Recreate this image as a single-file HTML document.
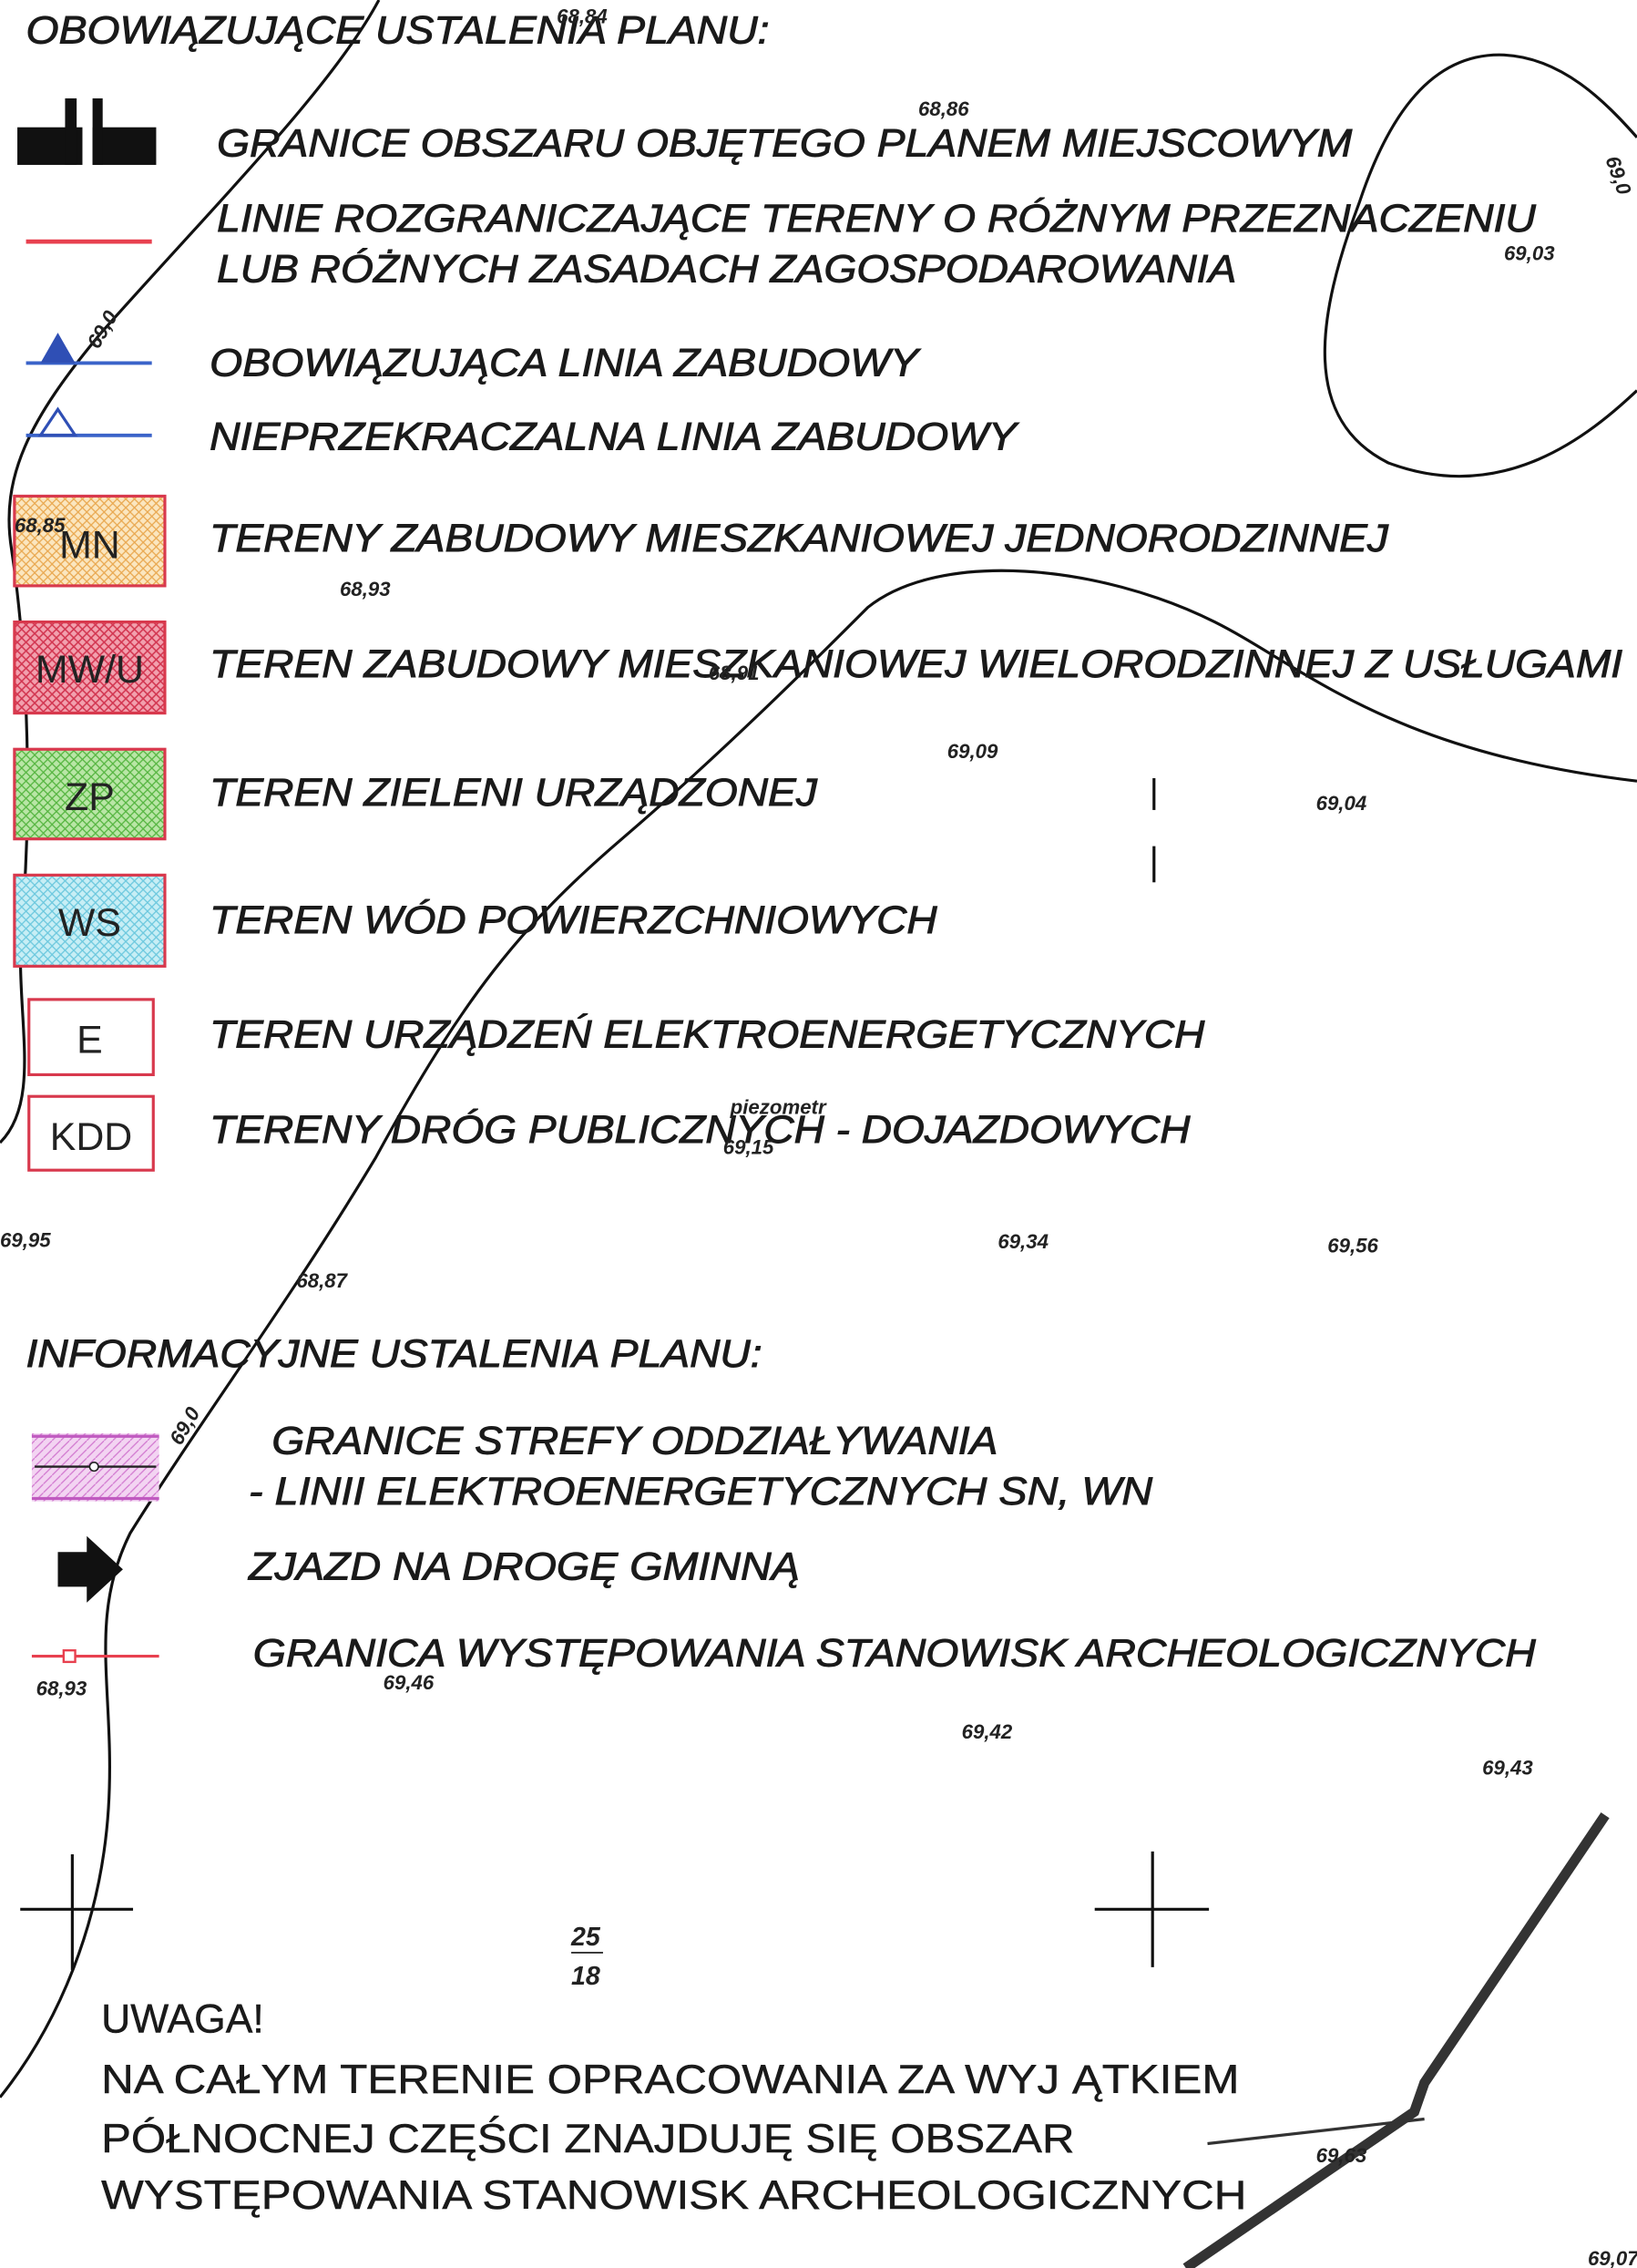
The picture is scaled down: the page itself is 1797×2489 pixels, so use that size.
<!DOCTYPE html>
<html><head><meta charset="utf-8"><style>
html,body{margin:0;padding:0;background:#fff;}
svg{display:block;}
.t{font-family:"Liberation Sans",sans-serif;font-style:italic;font-size:27px;fill:#1a1a1a;stroke:#1a1a1a;stroke-width:0.6;}
.n{font-family:"Liberation Sans",sans-serif;font-size:28px;fill:#1a1a1a;stroke:#1a1a1a;stroke-width:0.3;}
.s{font-family:"Liberation Sans",sans-serif;font-style:italic;font-weight:bold;font-size:14px;fill:#222;}
.b{font-family:"Liberation Sans",sans-serif;font-size:27px;fill:#222;}
</style></head><body>
<svg width="1797" height="2489" viewBox="0 0 1132 1568" preserveAspectRatio="none" xmlns="http://www.w3.org/2000/svg">
<defs>
<pattern id="ho" width="6" height="6" patternUnits="userSpaceOnUse"><rect width="6" height="6" fill="#fbe6bf"/><path d="M0,0L6,6M6,0L0,6" stroke="#e9a850" stroke-width="0.8"/></pattern>
<pattern id="hr" width="6" height="6" patternUnits="userSpaceOnUse"><rect width="6" height="6" fill="#f2a0ae"/><path d="M0,0L6,6M6,0L0,6" stroke="#d23550" stroke-width="1"/></pattern>
<pattern id="hg" width="6" height="6" patternUnits="userSpaceOnUse"><rect width="6" height="6" fill="#b9e6a6"/><path d="M0,0L6,6M6,0L0,6" stroke="#55b540" stroke-width="0.8"/></pattern>
<pattern id="hc" width="6" height="6" patternUnits="userSpaceOnUse"><rect width="6" height="6" fill="#c7eef5"/><path d="M0,0L6,6M6,0L0,6" stroke="#6cc8de" stroke-width="0.8"/></pattern>
<pattern id="hp" width="6" height="6" patternUnits="userSpaceOnUse"><rect width="6" height="6" fill="#f3d4f2"/><path d="M0,6L6,0" stroke="#d27ad0" stroke-width="0.8"/></pattern>
</defs>
<rect width="1132" height="1568" fill="#fff"/>
<g fill="none" stroke="#111" stroke-width="2">
<path d="M262,0 C230,60 150,140 70,230 C20,290 0,330 8,380 C20,460 22,560 15,640 C10,700 30,760 0,790"/>
<path d="M0,1450 C40,1400 70,1330 75,1250 C80,1170 60,1120 90,1060 C140,980 200,900 260,800 C320,690 360,640 430,580 C500,520 560,460 600,420 C650,380 760,390 840,430 C900,460 960,520 1132,540"/>
<path d="M1132,95 C1110,70 1080,40 1040,38 C990,36 960,80 940,140 C910,220 900,290 960,320 C1040,350 1100,300 1132,270"/>
</g>
<path d="M1110,1255 L985,1440 L978,1460 L820,1568" fill="none" stroke="#333" stroke-width="7"/>
<path d="M835,1482 L985,1465" stroke="#333" stroke-width="2" fill="none"/>
<text x="18" y="30" class="t" textLength="514" lengthAdjust="spacingAndGlyphs">OBOWIĄZUJĄCE USTALENIA PLANU:</text>
<rect x="12" y="88" width="45" height="26" fill="#111"/><rect x="45" y="68" width="8" height="46" fill="#111"/>
<rect x="64" y="88" width="44" height="26" fill="#111"/><rect x="64" y="68" width="7" height="46" fill="#111"/>
<text x="150" y="108" class="t" textLength="785" lengthAdjust="spacingAndGlyphs">GRANICE OBSZARU OBJĘTEGO PLANEM MIEJSCOWYM</text>
<line x1="18" y1="167" x2="105" y2="167" stroke="#e8404f" stroke-width="3"/>
<text x="150" y="160" class="t" textLength="912" lengthAdjust="spacingAndGlyphs">LINIE ROZGRANICZAJĄCE TERENY O RÓŻNYM PRZEZNACZENIU</text>
<text x="150" y="195" class="t" textLength="705" lengthAdjust="spacingAndGlyphs">LUB RÓŻNYCH ZASADACH ZAGOSPODAROWANIA</text>
<line x1="18" y1="251" x2="105" y2="251" stroke="#3a63c9" stroke-width="2.5"/>
<polygon points="28,251 40,230 52,251" fill="#2f4fb5"/>
<text x="145" y="260" class="t" textLength="490" lengthAdjust="spacingAndGlyphs">OBOWIĄZUJĄCA LINIA ZABUDOWY</text>
<line x1="18" y1="301" x2="105" y2="301" stroke="#3a63c9" stroke-width="2.5"/>
<polygon points="28,301 40,283 52,301" fill="none" stroke="#2f4fb5" stroke-width="2"/>
<text x="145" y="311" class="t" textLength="558" lengthAdjust="spacingAndGlyphs">NIEPRZEKRACZALNA LINIA ZABUDOWY</text>
<rect x="10" y="343" width="104" height="62" fill="url(#ho)" stroke="#d8394d" stroke-width="2"/>
<text x="62" y="386" class="b" text-anchor="middle">MN</text>
<text x="145" y="381" class="t" textLength="815" lengthAdjust="spacingAndGlyphs">TERENY ZABUDOWY MIESZKANIOWEJ JEDNORODZINNEJ</text>
<rect x="10" y="430" width="104" height="63" fill="url(#hr)" stroke="#d8394d" stroke-width="2"/>
<text x="62" y="472" class="b" text-anchor="middle">MW/U</text>
<text x="145" y="468" class="t" textLength="977" lengthAdjust="spacingAndGlyphs">TEREN ZABUDOWY MIESZKANIOWEJ WIELORODZINNEJ Z USŁUGAMI</text>
<rect x="10" y="518" width="104" height="62" fill="url(#hg)" stroke="#d8394d" stroke-width="2"/>
<text x="62" y="560" class="b" text-anchor="middle">ZP</text>
<text x="145" y="557" class="t" textLength="420" lengthAdjust="spacingAndGlyphs">TEREN ZIELENI URZĄDZONEJ</text>
<rect x="10" y="605" width="104" height="63" fill="url(#hc)" stroke="#d8394d" stroke-width="2"/>
<text x="62" y="647" class="b" text-anchor="middle">WS</text>
<text x="145" y="645" class="t" textLength="503" lengthAdjust="spacingAndGlyphs">TEREN WÓD POWIERZCHNIOWYCH</text>
<rect x="20" y="691" width="86" height="52" fill="#fff" stroke="#d8394d" stroke-width="2"/>
<text x="62" y="728" class="b" text-anchor="middle">E</text>
<text x="145" y="724" class="t" textLength="688" lengthAdjust="spacingAndGlyphs">TEREN URZĄDZEŃ ELEKTROENERGETYCZNYCH</text>
<rect x="20" y="758" width="86" height="51" fill="#fff" stroke="#d8394d" stroke-width="2"/>
<text x="63" y="795" class="b" text-anchor="middle">KDD</text>
<text x="145" y="790" class="t" textLength="678" lengthAdjust="spacingAndGlyphs">TERENY DRÓG PUBLICZNYCH - DOJAZDOWYCH</text>
<text x="18" y="945" class="t" textLength="509" lengthAdjust="spacingAndGlyphs">INFORMACYJNE USTALENIA PLANU:</text>
<rect x="22" y="991" width="88" height="47" fill="url(#hp)"/>
<line x1="22" y1="993" x2="110" y2="993" stroke="#c05ac0" stroke-width="2"/>
<line x1="22" y1="1036" x2="110" y2="1036" stroke="#c05ac0" stroke-width="2"/>
<line x1="24" y1="1014" x2="108" y2="1014" stroke="#222" stroke-width="1.5"/>
<circle cx="65" cy="1014" r="3" fill="#fff" stroke="#222"/>
<text x="188" y="1005" class="t" textLength="502" lengthAdjust="spacingAndGlyphs">GRANICE STREFY ODDZIAŁYWANIA</text>
<text x="172" y="1040" class="t" textLength="625" lengthAdjust="spacingAndGlyphs">- LINII ELEKTROENERGETYCZNYCH  SN, WN</text>
<polygon points="40,1073 60,1073 60,1062 85,1085 60,1108 60,1097 40,1097" fill="#111"/>
<text x="172" y="1092" class="t" textLength="381" lengthAdjust="spacingAndGlyphs">ZJAZD NA DROGĘ GMINNĄ</text>
<line x1="22" y1="1145" x2="110" y2="1145" stroke="#e8404f" stroke-width="2"/>
<rect x="44" y="1141" width="8" height="8" fill="#fff" stroke="#e8404f" stroke-width="1.5"/>
<text x="175" y="1152" class="t" textLength="887" lengthAdjust="spacingAndGlyphs">GRANICA WYSTĘPOWANIA STANOWISK ARCHEOLOGICZNYCH</text>
<g stroke="#111" stroke-width="2"><line x1="14" y1="1320" x2="92" y2="1320"/><line x1="50" y1="1282" x2="50" y2="1362"/>
<line x1="757" y1="1320" x2="836" y2="1320"/><line x1="797" y1="1280" x2="797" y2="1360"/>
<line x1="798" y1="538" x2="798" y2="560"/><line x1="798" y1="585" x2="798" y2="610"/></g>
<text x="405" y="1345" class="s" text-anchor="middle" style="font-size:18px">25</text>
<line x1="395" y1="1350" x2="417" y2="1350" stroke="#111"/>
<text x="405" y="1372" class="s" text-anchor="middle" style="font-size:18px">18</text>
<text x="385" y="16" class="s">68,84</text><text x="635" y="80" class="s">68,86</text><text x="1040" y="180" class="s">69,03</text>
<text x="235" y="412" class="s">68,93</text><text x="10" y="368" class="s">68,85</text><text x="655" y="524" class="s">69,09</text>
<text x="910" y="560" class="s">69,04</text><text x="500" y="798" class="s">69,15</text><text x="505" y="770" class="s">piezometr</text>
<text x="0" y="862" class="s">69,95</text><text x="690" y="863" class="s">69,34</text><text x="918" y="866" class="s">69,56</text>
<text x="205" y="890" class="s">68,87</text><text x="25" y="1172" class="s">68,93</text><text x="265" y="1168" class="s">69,46</text>
<text x="665" y="1202" class="s">69,42</text><text x="1025" y="1227" class="s">69,43</text><text x="910" y="1495" class="s">69,63</text>
<text x="1098" y="1566" class="s">69,07</text><text x="490" y="470" class="s">68,91</text>
<text x="68" y="242" class="s" transform="rotate(-60 68 242)">69,0</text>
<text x="125" y="1000" class="s" transform="rotate(-60 125 1000)">69,0</text>
<text x="1110" y="110" class="s" transform="rotate(70 1110 110)">69,0</text>
<text x="70" y="1405" class="n">UWAGA!</text>
<text x="70" y="1447" class="n" textLength="787" lengthAdjust="spacingAndGlyphs">NA CAŁYM TERENIE OPRACOWANIA ZA WYJ ĄTKIEM</text>
<text x="70" y="1488" class="n" textLength="673" lengthAdjust="spacingAndGlyphs">PÓŁNOCNEJ CZĘŚCI ZNAJDUJĘ SIĘ OBSZAR</text>
<text x="70" y="1527" class="n" textLength="792" lengthAdjust="spacingAndGlyphs">WYSTĘPOWANIA STANOWISK ARCHEOLOGICZNYCH</text>
</svg>
</body></html>
